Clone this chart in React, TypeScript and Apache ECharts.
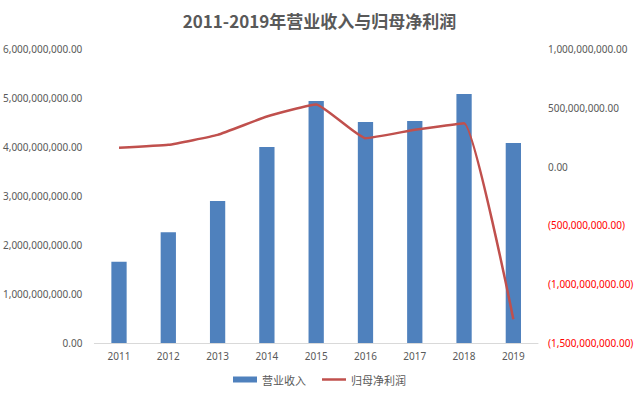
import React, { useEffect, useRef } from "react";
import * as echarts from "echarts";

const years = ["2011", "2012", "2013", "2014", "2015", "2016", "2017", "2018", "2019"];
const revenue = [1.66e9, 2.26e9, 2.9e9, 4.0e9, 4.94e9, 4.51e9, 4.53e9, 5.08e9, 4.08e9];
const netProfit = [1.6e8, 1.85e8, 2.7e8, 4.26e8, 5.28e8, 2.41e8, 3.13e8, 3.69e8, -1.298e9];
const seriesNames = ["营业收入", "归母净利润"];
const titleText = "2011-2019年营业收入与归母净利润";

const fmt = (v: number) => {
  const s = Math.abs(v).toLocaleString("en-US", { minimumFractionDigits: 2, maximumFractionDigits: 2 });
  return v < 0 ? `(${s})` : s;
};

export default function App() {
  const ref = useRef<HTMLDivElement>(null);
  useEffect(() => {
    if (!ref.current) return;
    const chart = echarts.init(ref.current, undefined, { renderer: "svg" });
    const font = "'Noto Sans', 'Noto Sans CJK SC', sans-serif";
    chart.setOption({
      animation: false,
      backgroundColor: "#ffffff",
      title: {
        text: titleText,
        left: "center",
        top: 7,
        textStyle: { fontSize: 17, fontWeight: "bold", color: "#595959", fontFamily: "'Noto Sans CJK SC', sans-serif" },
      },
      legend: {
        bottom: 7,
        left: "center",
        itemWidth: 24,
        itemHeight: 6,
        itemGap: 16,
        textStyle: { fontSize: 11, color: "#595959", fontFamily: "'Noto Sans CJK SC', sans-serif" },
        data: [
          { name: seriesNames[0], icon: "rect" },
          { name: seriesNames[1], icon: "path://M0,0 L24,0 L24,2.5 L0,2.5 Z" },
        ],
      },
      grid: { left: 94, right: 101, top: 49, bottom: 54, containLabel: false },
      xAxis: {
        type: "category",
        data: years,
        axisTick: { show: false },
        axisLine: { lineStyle: { color: "#D9D9D9" } },
        axisLabel: { color: "#595959", fontSize: 10, fontFamily: font, margin: 8 },
      },
      yAxis: [
        {
          type: "value",
          min: 0,
          max: 6e9,
          interval: 1e9,
          splitLine: { show: false },
          axisLine: { show: false },
          axisTick: { show: false },
          axisLabel: { color: "#595959", fontSize: 10, fontFamily: font, margin: 12, formatter: (v: number) => fmt(v) },
        },
        {
          type: "value",
          min: -1.5e9,
          max: 1e9,
          interval: 5e8,
          splitLine: { show: false },
          axisLine: { show: false },
          axisTick: { show: false },
          axisLabel: {
            fontSize: 10,
            fontFamily: font,
            margin: 10,
            align: "left",
            formatter: (v: number) => fmt(v),
            color: (v: any) => (Number(v) < 0 ? "#FF0000" : "#595959"),
          },
        },
      ],
      series: [
        {
          name: seriesNames[0],
          type: "bar",
          data: revenue,
          barWidth: "31%",
          itemStyle: { color: "#4F81BD" },
        },
        {
          name: seriesNames[1],
          type: "line",
          yAxisIndex: 1,
          data: netProfit,
          symbol: "none",
          smooth: 0.12,
          lineStyle: { color: "#C0504D", width: 2.5 },
          itemStyle: { color: "#C0504D" },
        },
      ],
    });
    return () => chart.dispose();
  }, []);
  return <div ref={ref} style={{ position: "fixed", left: 0, top: 0, width: 639, height: 397 }} />;
}
